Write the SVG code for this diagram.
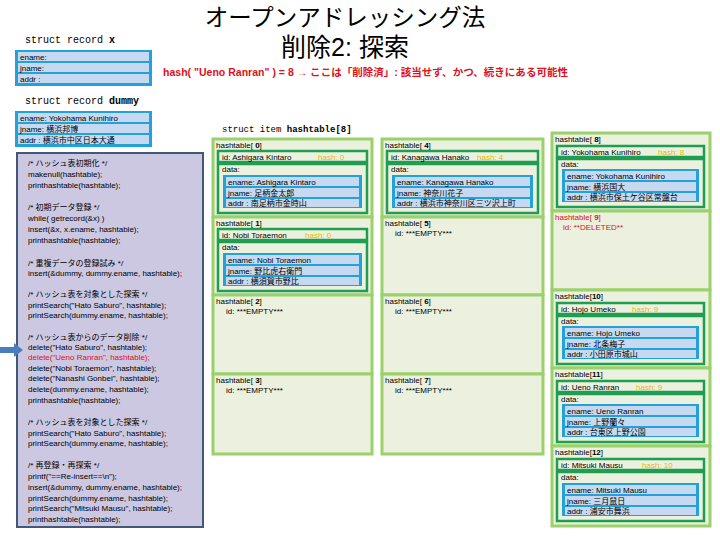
<svg xmlns="http://www.w3.org/2000/svg" width="720" height="540" viewBox="0 0 720 540">
<style>
text{font-family:"Liberation Sans","Noto Sans CJK JP",sans-serif;}
.mono{font-family:"Liberation Mono","Noto Sans CJK JP",monospace;fill:#000;}
.t{font-size:8px;fill:#000;}
.code{font-size:8px;fill:#000;}
.red{fill:#e0101c;}
.hash{fill:#f0b400;font-size:8px;}
.cell{fill:#ebf1de;stroke:#9bd16b;stroke-width:3;}
.dg{fill:#ebf1de;stroke:#1e9e50;stroke-width:2.5;}
.blue{fill:#22a2d8;}
.row{fill:#c6d9f1;}
</style>
<rect width="720" height="540" fill="#fff"/>

<g id="title">
<text x="345" y="26" font-size="23.5" text-anchor="middle" font-family="Noto Sans CJK JP,sans-serif">オープンアドレッシング法</text>
<text x="345" y="56" font-size="25" text-anchor="middle" font-family="Noto Sans CJK JP,sans-serif">削除2: 探索</text>
<text x="163" y="76" font-size="10" font-weight="bold" class="red" textLength="405" lengthAdjust="spacingAndGlyphs">hash( "Ueno Ranran" ) = 8 → ここは「削除済」: 該当せず、かつ、続きにある可能性</text>
</g>

<g id="record-x">
<text x="25" y="43" class="mono" font-size="10">struct record <tspan font-weight="bold">x</tspan></text>
<rect x="15" y="50" width="137" height="36" class="blue"/>
<rect x="18" y="52" width="131" height="9" class="row"/>
<rect x="18" y="63" width="131" height="9" class="row"/>
<rect x="18" y="74" width="131" height="9" class="row"/>
<text x="20" y="60" class="t" font-size="7">ename:</text>
<text x="20" y="71" class="t" font-size="7">jname:</text>
<text x="20" y="82" class="t" font-size="7">addr :</text>
</g>

<g id="record-dummy">
<text x="25" y="104" class="mono" font-size="10">struct record <tspan font-weight="bold">dummy</tspan></text>
<rect x="15" y="111" width="137" height="36" class="blue"/>
<rect x="18" y="113" width="131" height="9" class="row"/>
<rect x="18" y="124" width="131" height="9" class="row"/>
<rect x="18" y="135" width="131" height="9" class="row"/>
<text x="20" y="121" class="t" font-size="7">ename: Yokohama Kunihiro</text>
<text x="20" y="132" class="t" font-size="7">jname: 横浜邦博</text>
<text x="20" y="143" class="t" font-size="7">addr : 横浜市中区日本大通</text>
</g>

<g id="code">
<rect x="17" y="153" width="186" height="374" fill="#ccc8e2" stroke="#44587a" stroke-width="2"/>
<text class="code" x="28" y="166">/* ハッシュ表初期化 */</text>
<text class="code" x="28" y="177">makenull(hashtable);</text>
<text class="code" x="28" y="188">printhashtable(hashtable);</text>
<text class="code" x="28" y="210">/* 初期データ登録 */</text>
<text class="code" x="28" y="221">while( getrecord(&amp;x) )</text>
<text class="code" x="28" y="232">  insert(&amp;x, x.ename, hashtable);</text>
<text class="code" x="28" y="243">printhashtable(hashtable);</text>
<text class="code" x="28" y="266">/* 重複データの登録試み */</text>
<text class="code" x="28" y="276">insert(&amp;dummy, dummy.ename, hashtable);</text>
<text class="code" x="28" y="297">/* ハッシュ表を対象とした探索 */</text>
<text class="code" x="28" y="308">printSearch("Hato Saburo", hashtable);</text>
<text class="code" x="28" y="318">printSearch(dummy.ename, hashtable);</text>
<text class="code" x="28" y="340">/* ハッシュ表からのデータ削除 */</text>
<text class="code" x="28" y="350">delete("Hato Saburo", hashtable);</text>
<text class="code red" x="28" y="360">delete("Ueno Ranran", hashtable);</text>
<text class="code" x="28" y="371">delete("Nobi Toraemon", hashtable);</text>
<text class="code" x="28" y="381">delete("Nanashi Gonbei", hashtable);</text>
<text class="code" x="28" y="392">delete(dummy.ename, hashtable);</text>
<text class="code" x="28" y="403">printhashtable(hashtable);</text>
<text class="code" x="28" y="425">/* ハッシュ表を対象とした探索 */</text>
<text class="code" x="28" y="436">printSearch("Hato Saburo", hashtable);</text>
<text class="code" x="28" y="446">printSearch(dummy.ename, hashtable);</text>
<text class="code" x="28" y="468">/* 再登録・再探索 */</text>
<text class="code" x="28" y="479">printf("==Re-insert==\n");</text>
<text class="code" x="28" y="490">insert(&amp;dummy, dummy.ename, hashtable);</text>
<text class="code" x="28" y="501">printSearch(dummy.ename, hashtable);</text>
<text class="code" x="28" y="511">printSearch("Mitsuki Mausu", hashtable);</text>
<text class="code" x="28" y="522">printhashtable(hashtable);</text>
</g>

<g id="arrow">
<polygon points="0,347 14,347 14,343 23,350 14,357 14,353 0,353" fill="#4a7ebb"/>
</g>

<text x="222" y="132" class="mono" font-size="9">struct item <tspan font-weight="bold">hashtable[8]</tspan></text>

<g id="ht0">
<rect x="213" y="139" width="159" height="78" class="cell"/>
<text x="216" y="148" class="t">hashtable[ <tspan font-weight="bold">0</tspan>]</text>
<rect x="218" y="151" width="149" height="11" class="dg"/>
<text x="222" y="160" class="t">id: Ashigara Kintaro</text><text x="318" y="160" class="hash">hash: 0</text>
<rect x="218" y="164" width="149" height="49" class="dg"/>
<text x="222" y="172" class="t">data:</text>
<rect x="223" y="175" width="139" height="33" class="blue"/>
<rect x="226" y="177" width="133" height="9" class="row"/><rect x="226" y="188" width="133" height="9" class="row"/><rect x="226" y="199" width="133" height="8" class="row"/>
<text x="228" y="185" class="t">ename: Ashigara Kintaro</text>
<text x="228" y="196" class="t">jname: 足柄金太郎</text>
<text x="228" y="206" class="t">addr : 南足柄市金時山</text>
</g>

<g id="ht1">
<rect x="213" y="217" width="159" height="78" class="cell"/>
<text x="216" y="226" class="t">hashtable[ <tspan font-weight="bold">1</tspan>]</text>
<rect x="218" y="229" width="149" height="11" class="dg"/>
<text x="222" y="238" class="t">id: Nobi Toraemon</text><text x="305" y="238" class="hash">hash: 0</text>
<rect x="218" y="242" width="149" height="49" class="dg"/>
<text x="222" y="250" class="t">data:</text>
<rect x="223" y="253" width="139" height="33" class="blue"/>
<rect x="226" y="255" width="133" height="9" class="row"/><rect x="226" y="266" width="133" height="9" class="row"/><rect x="226" y="277" width="133" height="8" class="row"/>
<text x="228" y="263" class="t">ename: Nobi Toraemon</text>
<text x="228" y="274" class="t">jname: 野比虎右衛門</text>
<text x="228" y="284" class="t">addr : 横須賀市野比</text>
</g>

<g id="ht2">
<rect x="213" y="295" width="159" height="79" class="cell"/>
<text x="216" y="304" class="t">hashtable[ <tspan font-weight="bold">2</tspan>]</text>
<text x="226" y="314" class="t">id: ***EMPTY***</text>
</g>

<g id="ht3">
<rect x="213" y="374" width="159" height="80" class="cell"/>
<text x="216" y="383" class="t">hashtable[ <tspan font-weight="bold">3</tspan>]</text>
<text x="226" y="393" class="t">id: ***EMPTY***</text>
</g>

<g id="ht4">
<rect x="382" y="139" width="161" height="78" class="cell"/>
<text x="385" y="148" class="t">hashtable[ <tspan font-weight="bold">4</tspan>]</text>
<rect x="387" y="151" width="151" height="11" class="dg"/>
<text x="391" y="160" class="t">id: Kanagawa Hanako</text><text x="477" y="160" class="hash">hash: 4</text>
<rect x="387" y="164" width="151" height="49" class="dg"/>
<text x="391" y="172" class="t">data:</text>
<rect x="392" y="175" width="141" height="33" class="blue"/>
<rect x="395" y="177" width="135" height="9" class="row"/><rect x="395" y="188" width="135" height="9" class="row"/><rect x="395" y="199" width="135" height="8" class="row"/>
<text x="397" y="185" class="t">ename: Kanagawa Hanako</text>
<text x="397" y="196" class="t">jname: 神奈川花子</text>
<text x="397" y="206" class="t">addr : 横浜市神奈川区三ツ沢上町</text>
</g>

<g id="ht5">
<rect x="382" y="217" width="161" height="78" class="cell"/>
<text x="385" y="226" class="t">hashtable[ <tspan font-weight="bold">5</tspan>]</text>
<text x="395" y="236" class="t">id: ***EMPTY***</text>
</g>

<g id="ht6">
<rect x="382" y="295" width="161" height="79" class="cell"/>
<text x="385" y="304" class="t">hashtable[ <tspan font-weight="bold">6</tspan>]</text>
<text x="395" y="314" class="t">id: ***EMPTY***</text>
</g>

<g id="ht7">
<rect x="382" y="374" width="161" height="80" class="cell"/>
<text x="385" y="383" class="t">hashtable[ <tspan font-weight="bold">7</tspan>]</text>
<text x="395" y="393" class="t">id: ***EMPTY***</text>
</g>

<g id="ht8">
<rect x="552" y="133" width="158" height="78" class="cell"/>
<text x="555" y="142" class="t">hashtable[ <tspan font-weight="bold">8</tspan>]</text>
<rect x="557" y="146" width="147" height="11" class="dg"/>
<text x="561" y="155" class="t">id: Yokohama Kunihiro</text><text x="658" y="155" class="hash">hash: 8</text>
<rect x="557" y="159" width="147" height="48" class="dg"/>
<text x="561" y="167" class="t">data:</text>
<rect x="562" y="169" width="137" height="33" class="blue"/>
<rect x="565" y="171" width="131" height="9" class="row"/><rect x="565" y="182" width="131" height="9" class="row"/><rect x="565" y="193" width="131" height="8" class="row"/>
<text x="567" y="179" class="t">ename: Yokohama Kunihiro</text>
<text x="567" y="190" class="t">jname: 横浜国大</text>
<text x="567" y="200" class="t">addr : 横浜市保土ケ谷区常盤台</text>
</g>

<g id="ht9">
<rect x="552" y="211" width="158" height="79" class="cell"/>
<text x="555" y="220" class="t red">hashtable[ <tspan font-weight="bold">9</tspan>]</text>
<text x="563" y="230" class="t red">id: **DELETED**</text>
</g>

<g id="ht10">
<rect x="552" y="290" width="158" height="78" class="cell"/>
<text x="555" y="299" class="t">hashtable[<tspan font-weight="bold">10</tspan>]</text>
<rect x="557" y="303" width="147" height="11" class="dg"/>
<text x="561" y="312" class="t">id: Hojo Umeko</text><text x="632" y="312" class="hash">hash: 9</text>
<rect x="557" y="316" width="147" height="48" class="dg"/>
<text x="561" y="324" class="t">data:</text>
<rect x="562" y="326" width="137" height="33" class="blue"/>
<rect x="565" y="328" width="131" height="9" class="row"/><rect x="565" y="339" width="131" height="9" class="row"/><rect x="565" y="350" width="131" height="8" class="row"/>
<text x="567" y="336" class="t">ename: Hojo Umeko</text>
<text x="567" y="347" class="t">jname: 北条梅子</text>
<text x="567" y="357" class="t">addr : 小田原市城山</text>
</g>

<g id="ht11">
<rect x="552" y="368" width="158" height="78" class="cell"/>
<text x="555" y="377" class="t">hashtable[<tspan font-weight="bold">11</tspan>]</text>
<rect x="557" y="381" width="147" height="11" class="dg"/>
<text x="561" y="390" class="t">id: Ueno Ranran</text><text x="636" y="390" class="hash">hash: 9</text>
<rect x="557" y="394" width="147" height="48" class="dg"/>
<text x="561" y="402" class="t">data:</text>
<rect x="562" y="404" width="137" height="33" class="blue"/>
<rect x="565" y="406" width="131" height="9" class="row"/><rect x="565" y="417" width="131" height="9" class="row"/><rect x="565" y="428" width="131" height="8" class="row"/>
<text x="567" y="414" class="t">ename: Ueno Ranran</text>
<text x="567" y="425" class="t">jname: 上野蘭々</text>
<text x="567" y="435" class="t">addr : 台東区上野公園</text>
</g>

<g id="ht12">
<rect x="552" y="446" width="158" height="80" class="cell"/>
<text x="555" y="455" class="t">hashtable[<tspan font-weight="bold">12</tspan>]</text>
<rect x="557" y="459" width="147" height="11" class="dg"/>
<text x="561" y="468" class="t">id: Mitsuki Mausu</text><text x="642" y="468" class="hash">hash: 10</text>
<rect x="557" y="472" width="147" height="49" class="dg"/>
<text x="561" y="480" class="t">data:</text>
<rect x="562" y="483" width="137" height="33" class="blue"/>
<rect x="565" y="485" width="131" height="9" class="row"/><rect x="565" y="496" width="131" height="9" class="row"/><rect x="565" y="507" width="131" height="8" class="row"/>
<text x="567" y="493" class="t">ename: Mitsuki Mausu</text>
<text x="567" y="504" class="t">jname: 三月鼠日</text>
<text x="567" y="514" class="t">addr : 浦安市舞浜</text>
</g>

<g id="connectors"></g>
</svg>
